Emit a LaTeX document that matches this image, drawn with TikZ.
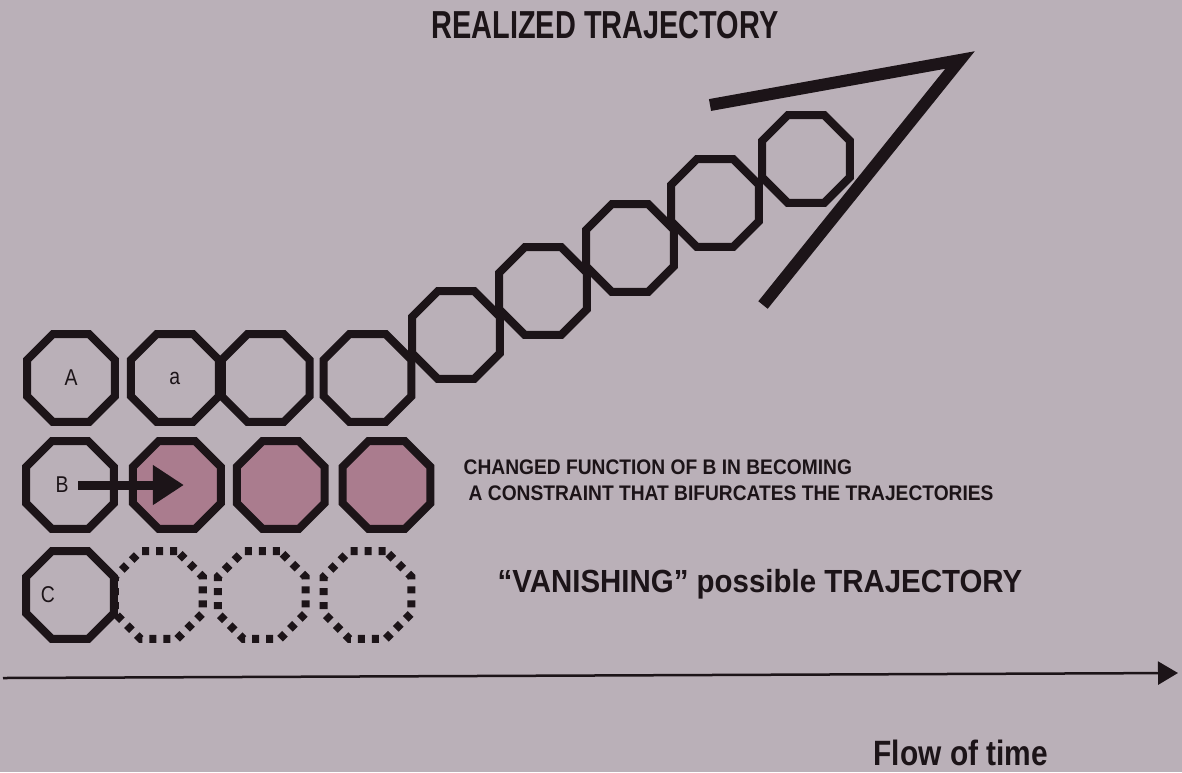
\documentclass[tikz,border=0pt]{standalone}
\usepackage{fontspec}
\setmainfont{Liberation Sans}
\newfontfamily\titlefont[FakeStretch=0.74]{Liberation Sans}
\newfontfamily\notefont[FakeStretch=0.91]{Liberation Sans}
\newfontfamily\vanfont[FakeStretch=0.92]{Liberation Sans}
\newfontfamily\timefont[FakeStretch=0.85]{Liberation Sans}
\newfontfamily\labfont[FakeStretch=0.85]{Liberation Sans}
\usetikzlibrary{arrows.meta,positioning,shapes.geometric}
\definecolor{paper}{RGB}{186,176,184}
\definecolor{ink}{RGB}{28,20,24}
\definecolor{mauve}{RGB}{170,124,142}

\begin{document}
\begin{tikzpicture}[x=0.01cm, y=-0.01cm,
    oct/.style={draw=ink, regular polygon, regular polygon sides=8, minimum size=0.95cm, inner sep=0pt, line width=0.08cm, text=ink, font=\labfont\fontsize{6.5}{7.5}\selectfont},
    octfill/.style={oct, fill=mauve},
    octdash/.style={oct, dash pattern=on 0.07cm off 0.07cm},
    lab/.style={text=ink, inner sep=0pt, font=\labfont\fontsize{6.5}{7.5}\selectfont},
    note/.style={text=ink, inner sep=0pt, anchor=base west, font=\notefont\bfseries\fontsize{6}{7.4}\selectfont},
    arr/.style={-{Triangle[length=0.31cm, width=0.38cm]}, line width=0.09cm, draw=ink},
    timearr/.style={-{Triangle[length=0.2cm, width=0.23cm]}, line width=0.025cm, draw=ink}
  ]
  \fill[paper] (0,0) rectangle (1182,772);
  \useasboundingbox (0,0) rectangle (1182,772);

  % row A
  \node[oct] (a1) at (71,378) {A};
  \node[oct, right=0.08cm of a1] (a2) {a};
  \node[oct, right=-0.05cm of a2] (a3) {};
  \node[oct, right=0.06cm of a3] (a4) {};
  % row B
  \node[oct] (b1) at (70,485) {};
  \node[octfill, right=0.11cm of b1] (b2) {};
  \node[octfill, right=0.08cm of b2] (b3) {};
  \node[octfill, right=0.10cm of b3] (b4) {};
  \node[lab] (blab) at ([xshift=-0.08cm]b1.center) {B};
  % row C
  \node[oct] (c1) at (70,595) {};
  \node[octdash, right=-0.07cm of c1] (c2) {};
  \node[octdash, right=0.07cm of c2] (c3) {};
  \node[octdash, right=0.10cm of c3] (c4) {};
  \node[lab] (clab) at ([xshift=-0.22cm]c1.center) {C};

  % rising trajectory
  \foreach \n/\px/\py in {1/456/335, 2/543/291, 3/630/248, 4/715/203, 5/806/159}
    \node[oct] (t\n) at (\px,\py) {};

  \coordinate (v0) at (710,105);
  \coordinate (v1) at (960,60);
  \coordinate (v2) at (763,305);
  \draw[ink, line width=0.12cm, line join=miter] (v0) -- (v1) -- (v2);

  \draw[arr] ([xshift=0.08cm]b1.center) -- ([xshift=0.07cm]b2.center);

  % texts
  \node[text=ink, inner sep=0pt, anchor=base, font=\titlefont\bfseries\fontsize{11.1}{13}\selectfont] (title) at (605,38) {REALIZED TRAJECTORY};
  \node[note] (note1) at (463,474) {CHANGED FUNCTION OF B IN BECOMING};
  \node[note] (note2) at (468,500) {A CONSTRAINT THAT BIFURCATES THE TRAJECTORIES};
  \node[text=ink, inner sep=0pt, anchor=base west, font=\vanfont\bfseries\fontsize{9.1}{11}\selectfont] (vanish) at (497,592) {“VANISHING” possible TRAJECTORY};

  % time axis
  \coordinate (t0) at (3,678);
  \coordinate (tend) at (1178,673);
  \draw[timearr] (t0) -- (tend);
  \node[text=ink, inner sep=0pt, anchor=base west, font=\timefont\bfseries\fontsize{10}{12}\selectfont] (flow) at (873,765) {Flow of time};
\end{tikzpicture}
\end{document}
